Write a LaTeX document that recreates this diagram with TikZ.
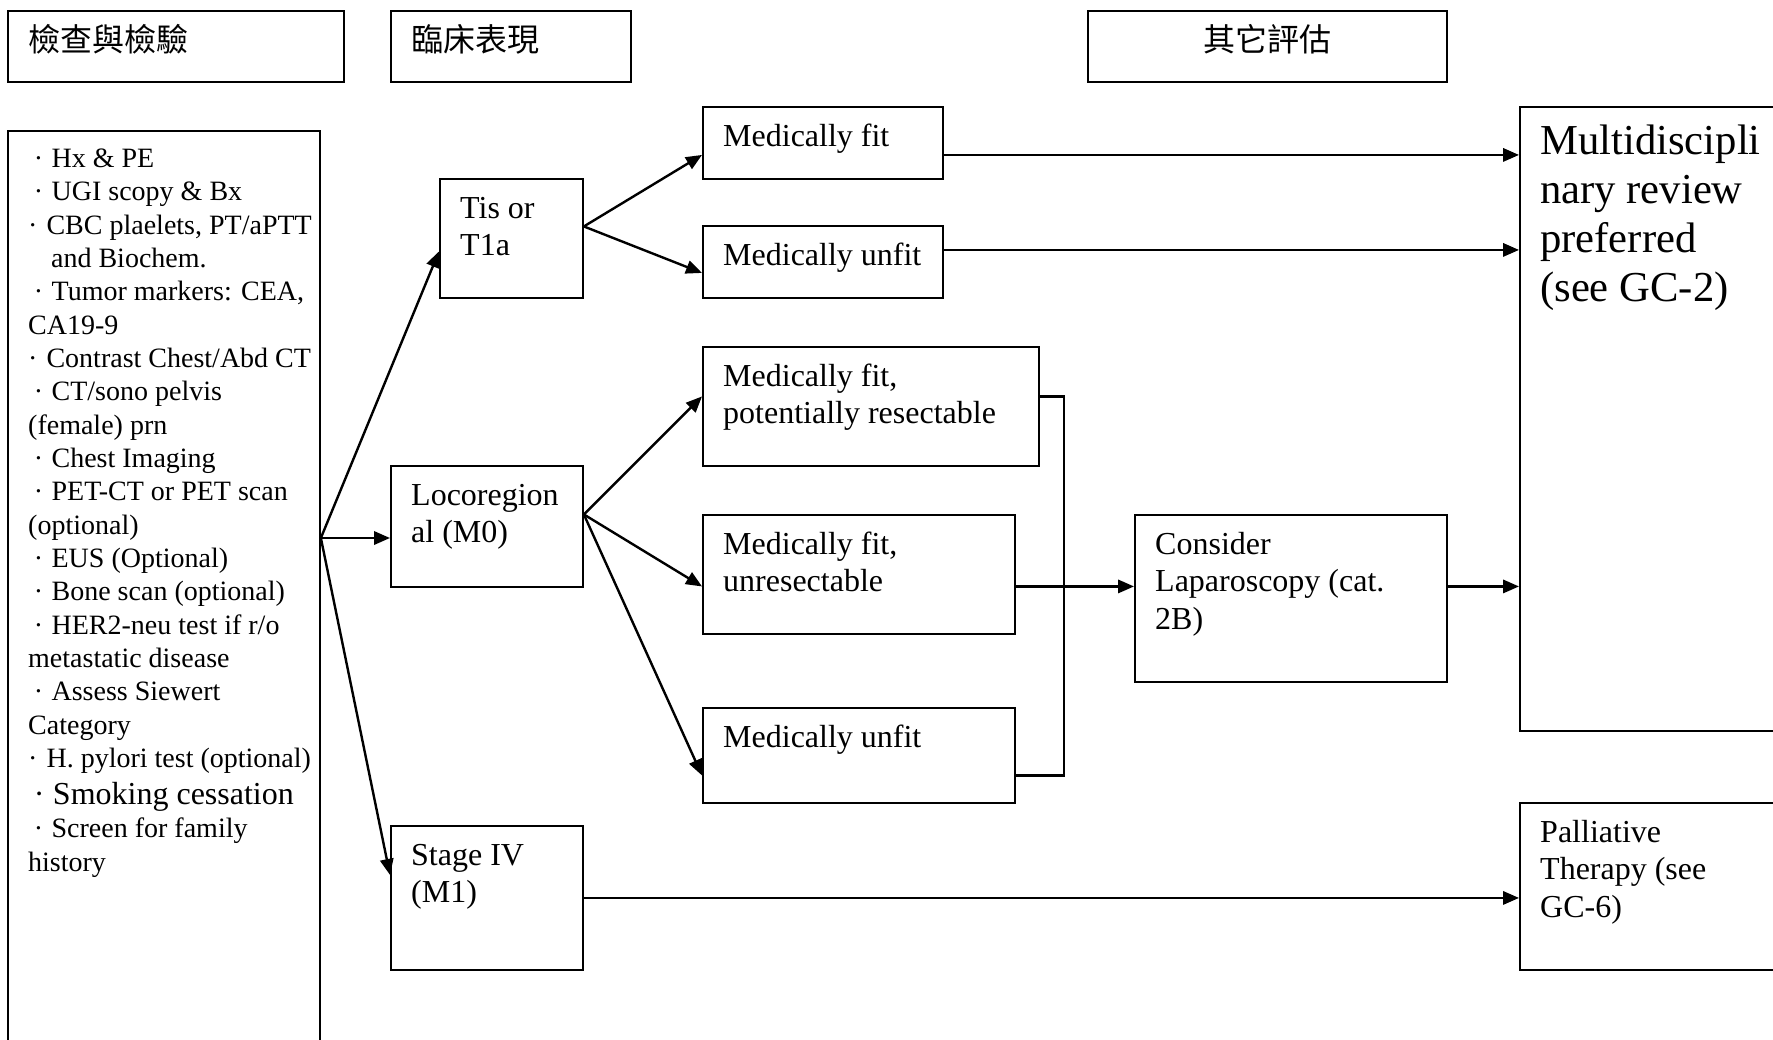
\documentclass[tikz,border=0pt]{standalone}
\usepackage{fontspec}
\setmainfont{Liberation Serif}
\newfontfamily\cjkfont{Noto Sans CJK TC}
\usetikzlibrary{arrows.meta}
\newlength\pxu
\setlength\pxu{0.375pt}
\newcommand{\wdot}{\hspace*{2.1pt}·\hspace{3.2pt}}
\newcommand{\ndot}{\hspace*{0pt}·\hspace{3.4pt}}
\begin{document}
\begin{tikzpicture}[
        x=0.375pt, y=-0.375pt,
        every node/.style={font=\fontsize{12}{14}\selectfont},
        box/.style 2 args={draw, line width=0.7pt, anchor=north west, inner xsep=0pt, inner ysep=5pt,
            execute at begin node={\begin{minipage}[t][\dimexpr#2\pxu-10pt\relax][t]{#1\pxu}\raggedright\leftskip=7.6pt\strut},
            execute at end node={\end{minipage}}},
        hdr/.style={font=\cjkfont\fontsize{12}{14.6}\selectfont},
        arr/.style={-{Triangle[length=6pt, width=5pt]}, line width=0.9pt},
        link/.style={line width=0.9pt}
    ]
    \useasboundingbox (0,0) rectangle (1773,1039);
    \clip (0,0) rectangle (1773,1039);

    \node[box={336}{71}, hdr] (hdrtest) at (7,10) {檢查與檢驗};
    \node[box={240}{71}, hdr] (hdrclin) at (390,10) {臨床表現};
    \node[box={359}{71}, hdr] (hdrother) at (1087,10) {\centering 其它評估\par};

    \node[box={312}{1000}, font=\fontsize{10.5}{12.5}\selectfont] (tests) at (7,130) {%
        \wdot Hx \& PE\\
        \wdot UGI scopy \& Bx\\
        \ndot CBC plaelets, PT/aPTT\\
        \hspace*{8.6pt}and Biochem.\\
        \wdot Tumor markers: CEA,\\
        CA19-9\\
        \ndot Contrast Chest/Abd CT\\
        \wdot CT/sono pelvis\\
        (female) prn\\
        \wdot Chest Imaging\\
        \wdot PET-CT or PET scan\\
        (optional)\\
        \wdot EUS (Optional)\\
        \wdot Bone scan (optional)\\
        \wdot HER2-neu test if r/o\\
        metastatic disease\\
        \wdot Assess Siewert\\
        Category\\
        \ndot H. pylori test (optional)\\
        {\fontsize{12}{13.8}\selectfont\wdot Smoking cessation\\}
        \wdot Screen for family\\
        history};

    \node[box={143}{119}] (tis) at (439,178)
        {Tis or\\T1a};
    \node[box={192}{121}] (loco) at (390,465)
        {Locoregion\\al (M0)};
    \node[box={192}{144}] (stage) at (390,825)
        {Stage IV\\(M1)};

    \node[box={240}{72}] (fit1) at (702,106)
        {Medically fit};
    \node[box={240}{72}] (unfit1) at (702,225)
        {Medically unfit};
    \node[box={336}{119}] (fitres) at (702,346)
        {Medically fit,\\potentially resectable};
    \node[box={312}{119}] (fitunres) at (702,514)
        {Medically fit,\\unresectable};
    \node[box={312}{95}] (unfit2) at (702,707)
        {Medically unfit};

    \node[box={312}{167}] (lap) at (1134,514)
        {Consider\\Laparoscopy (cat.\\2B)};
    \node[box={300}{624}, font=\fontsize{16}{18.4}\selectfont] (mdt) at (1519,106)
        {Multidiscipli\\nary review\\preferred\\(see GC-2)};
    \node[box={300}{167}] (pall) at (1519,802)
        {Palliative\\Therapy (see\\GC-6)};

    \coordinate (hub) at (tests.north east |- 0,538);
    \draw[arr] (hub) -- ([shift={(0,13)}]tis.west);
    \draw[arr] (hub) -- (loco.west |- hub);
    \draw[arr] (hub) -- ([shift={(0,-23)}]stage.west);

    \draw[arr] ([shift={(0,-12)}]tis.east) coordinate (tisout) -- ([shift={(0,12)}]fit1.west);
    \draw[arr] (tisout) -- ([shift={(0,11)}]unfit1.west);
    \draw[arr] ([shift={(0,12)}]fit1.east) -- ([shift={(0,12)}]fit1.east -| mdt.west);
    \draw[arr] ([shift={(0,-12)}]unfit1.east) -- ([shift={(0,-12)}]unfit1.east -| mdt.west);

    \draw[arr] ([shift={(0,-12)}]loco.east) coordinate (locoout) -- ([shift={(0,-10)}]fitres.west);
    \draw[arr] (locoout) -- ([shift={(0,12)}]fitunres.west);
    \draw[arr] (locoout) -- ([shift={(0,20)}]unfit2.west);
    \draw[link] ([shift={(0,-10)}]fitres.east) -| ([shift={(48,20)}]unfit2.east) -- ([shift={(0,20)}]unfit2.east);

    \draw[arr] ([shift={(0,12)}]fitunres.east) -- ([shift={(0,12)}]fitunres.east -| lap.west);
    \draw[arr] ([shift={(0,-12)}]lap.east) -- ([shift={(0,-12)}]lap.east -| mdt.west);
    \draw[arr] (stage.east) -- (stage.east -| pall.west);
\end{tikzpicture}
\end{document}
